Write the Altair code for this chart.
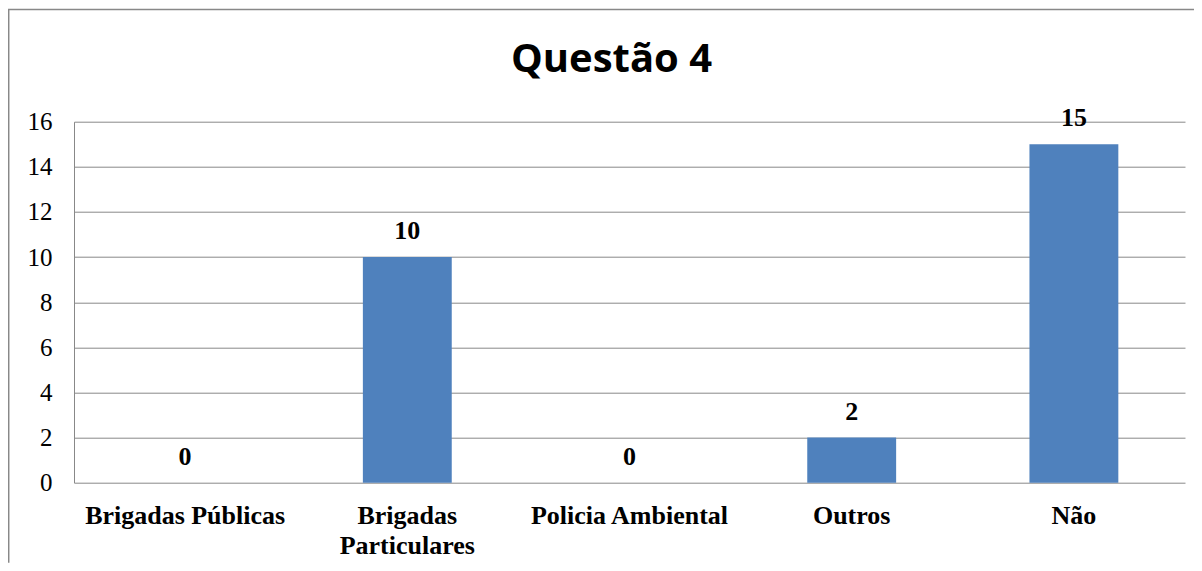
import altair as alt
import pandas as pd

categories = ["Brigadas Públicas", "Brigadas Particulares", "Policia Ambiental", "Outros", "Não"]
values = [0, 10, 0, 2, 15]
y_ticks = [0, 2, 4, 6, 8, 10, 12, 14, 16]
title_text = "Questão 4"
caption_text = "Gráfico 11 – Integração de Órgãos"

df = pd.DataFrame({"categoria": categories, "valor": values})

W, H = 1111, 361
PAD_L, PAD_T, PAD_R, PAD_B = 66, 113.7, 9, 80

x_enc = alt.X(
    "categoria:N",
    sort=categories,
    scale=alt.Scale(paddingInner=0.6, paddingOuter=0.3),
    axis=alt.Axis(
        title=None, labelAngle=0, labelFont="Liberation Serif", labelFontSize=26,
        labelFontWeight="bold", labelColor="black", labelPadding=20, ticks=False,
        tickSize=0, domain=False, labelLineHeight=30, labelLimit=0,
        labelExpr="datum.label == 'Brigadas Particulares' ? ['Brigadas', 'Particulares'] : datum.label",
    ),
)
y_enc = alt.Y(
    "valor:Q",
    scale=alt.Scale(domain=[0, 16], nice=False),
    axis=alt.Axis(
        values=y_ticks, title=None, grid=True, gridColor="#888888", gridWidth=1,
        domain=True, domainColor="#888888", domainWidth=1, ticks=False, tickSize=0,
        labelFont="Liberation Serif", labelFontSize=25, labelColor="black", labelPadding=22,
    ),
)

base = alt.Chart(df)
bars = base.mark_bar(color="#4F81BD").encode(x=x_enc, y=y_enc)
labels = base.mark_text(
    font="Liberation Serif", fontSize=26, fontWeight="bold", baseline="alphabetic",
    dy=-18, color="black",
).encode(x=alt.X("categoria:N", sort=categories), y="valor:Q", text="valor:Q")

one = pd.DataFrame({"t": [title_text], "c": [caption_text]})
title = alt.Chart(one).mark_text(
    font="Open Sans", fontSize=40, fontWeight="bold", baseline="alphabetic", align="center",
    color="black",
).encode(text="t:N", x=alt.value(537.5), y=alt.value(-49.7))
caption = alt.Chart(one).mark_text(
    font="Liberation Serif", fontSize=21, baseline="alphabetic", align="center", color="black",
).encode(text="c:N", x=alt.value(575), y=alt.value(-118.7))

frame_left = alt.Chart(one).mark_rule(color="#888888", strokeWidth=1.5).encode(
    x=alt.value(-65.3), y=alt.value(-112.2), y2=alt.value(H + PAD_B)
)
frame_top = alt.Chart(one).mark_rule(color="#888888", strokeWidth=1.5).encode(
    x=alt.value(-66), x2=alt.value(W + PAD_R), y=alt.value(-112.2)
)

chart = alt.layer(bars, labels, title, caption, frame_left, frame_top).properties(
    width=W, height=H,
    padding={"left": PAD_L, "top": PAD_T, "right": PAD_R, "bottom": PAD_B},
    autosize="none",
).configure_view(stroke=None)

chart.save("out.html", embed_options={"renderer": "svg", "actions": False})
